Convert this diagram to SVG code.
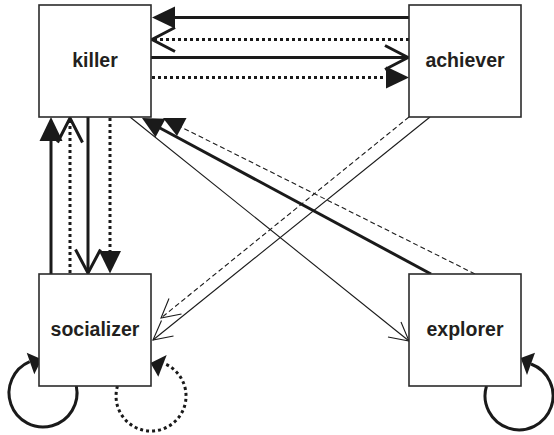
<svg xmlns="http://www.w3.org/2000/svg" width="554" height="435" viewBox="0 0 554 435">
  <style>
    .box { fill: #ffffff; stroke: #2b2b2b; stroke-width: 1.6; }
    .label { font-family: "Liberation Sans", Arial, sans-serif; font-weight: bold; font-size: 19.5px; fill: #231f20; text-anchor: middle; }
    .thick { fill: none; stroke: #1a1a1a; stroke-width: 3; }
    .dotted { fill: none; stroke: #1a1a1a; stroke-width: 3; stroke-dasharray: 3 3; }
    .thin { fill: none; stroke: #1a1a1a; stroke-width: 1.1; }
    .dashed { fill: none; stroke: #1a1a1a; stroke-width: 1.1; stroke-dasharray: 5 3; }
    .head { fill: #1a1a1a; stroke: none; }
    .vthick { fill: none; stroke: #1a1a1a; stroke-width: 3; stroke-linecap: butt; }
    .vthin { fill: none; stroke: #1a1a1a; stroke-width: 1.1; }
  </style>

  <g id="connectors">
    <!-- achiever -> killer (solid, filled head) -->
    <line class="thick" x1="409" y1="17.5" x2="174" y2="17.5"/>
    <polygon class="head" points="152,17.5 175,6.5 175,28.5"/>
    <!-- achiever -> killer (dotted, open head) -->
    <line class="dotted" x1="409" y1="39.5" x2="153" y2="39.5"/>
    <polyline class="vthick" points="175,27.5 152,39.5 175,51.5"/>
    <!-- killer -> achiever (solid, open head) -->
    <line class="thick" x1="151" y1="57.5" x2="408" y2="57.5"/>
    <polyline class="vthick" points="385,45.5 408,57.5 385,69.5"/>
    <!-- killer -> achiever (dotted, filled head) -->
    <line class="dotted" x1="152" y1="77.5" x2="386" y2="77.5"/>
    <polygon class="head" points="409,77.5 386,66.5 386,88.5"/>

    <!-- socializer -> killer (solid, filled head) -->
    <line class="thick" x1="51" y1="274" x2="51" y2="139"/>
    <polygon class="head" points="51,117 39.5,141 62.5,141"/>
    <!-- socializer -> killer (dotted, open head) -->
    <line class="dotted" x1="70" y1="273" x2="70" y2="119"/>
    <polyline class="vthick" points="57.5,142.5 70,118 82.5,142.5"/>
    <!-- killer -> socializer (solid, open head) -->
    <line class="thick" x1="88" y1="117" x2="88" y2="272"/>
    <polyline class="vthick" points="75.5,249.5 88,273 100.5,249.5"/>
    <!-- killer -> socializer (dotted, filled head) -->
    <line class="dotted" x1="110" y1="118" x2="110" y2="251"/>
    <polygon class="head" points="110,273.5 99,251 121,251"/>

    <!-- explorer -> killer (solid, filled head) -->
    <line class="thick" x1="431" y1="274" x2="159" y2="127.5"/>
    <polygon class="head" points="142,118 165.5,118.8 155.5,137.2"/>
    <!-- explorer -> killer (dashed, filled head) -->
    <line class="dashed" x1="475" y1="274" x2="181" y2="127"/>
    <polygon class="head" points="163,118 186.5,118 177,136"/>

    <!-- killer -> explorer (thin, open head) -->
    <line class="thin" x1="130" y1="117" x2="409" y2="341"/>
    <polyline class="vthin" points="388,337 409,341 401,322"/>
    <!-- achiever -> socializer (thin, open head) -->
    <line class="thin" x1="430" y1="117" x2="153" y2="340"/>
    <polyline class="vthin" points="173.5,336 153,340 161.5,320.5"/>
    <!-- achiever -> socializer (dashed, open head) -->
    <line class="dashed" x1="409" y1="117" x2="161" y2="318"/>
    <polyline class="vthin" points="181.5,314 161,318 169,298.5"/>

    <!-- socializer self loop (solid) -->
    <path class="thick" d="M 76.3 386 A 34 34 0 1 1 29.7 361.7"/>
    <polygon class="head" points="26.7,352.7 41.7,359.3 34.3,374.3"/>
    <!-- socializer self loop (dotted) -->
    <path class="dotted" d="M 117.5 386 A 35 35 0 1 0 163.5 363.3"/>
    <polygon class="head" points="150.5,363 166.7,355 158.3,376.7"/>
    <!-- explorer self loop (solid) -->
    <path class="thick" d="M 486.5 386 A 34 34 0 1 0 531 364"/>
    <polygon class="head" points="520.7,358 535,352.7 527,375"/>
  </g>

  <g id="killer">
    <rect class="box" x="39" y="5" width="112" height="112"/>
    <text class="label" x="95" y="67">killer</text>
  </g>
  <g id="achiever">
    <rect class="box" x="409" y="5" width="112" height="112"/>
    <text class="label" x="465" y="67">achiever</text>
  </g>
  <g id="socializer">
    <rect class="box" x="39" y="274" width="112" height="112"/>
    <text class="label" x="95" y="336">socializer</text>
  </g>
  <g id="explorer">
    <rect class="box" x="409" y="274" width="112" height="112"/>
    <text class="label" x="465" y="336">explorer</text>
  </g>
</svg>
